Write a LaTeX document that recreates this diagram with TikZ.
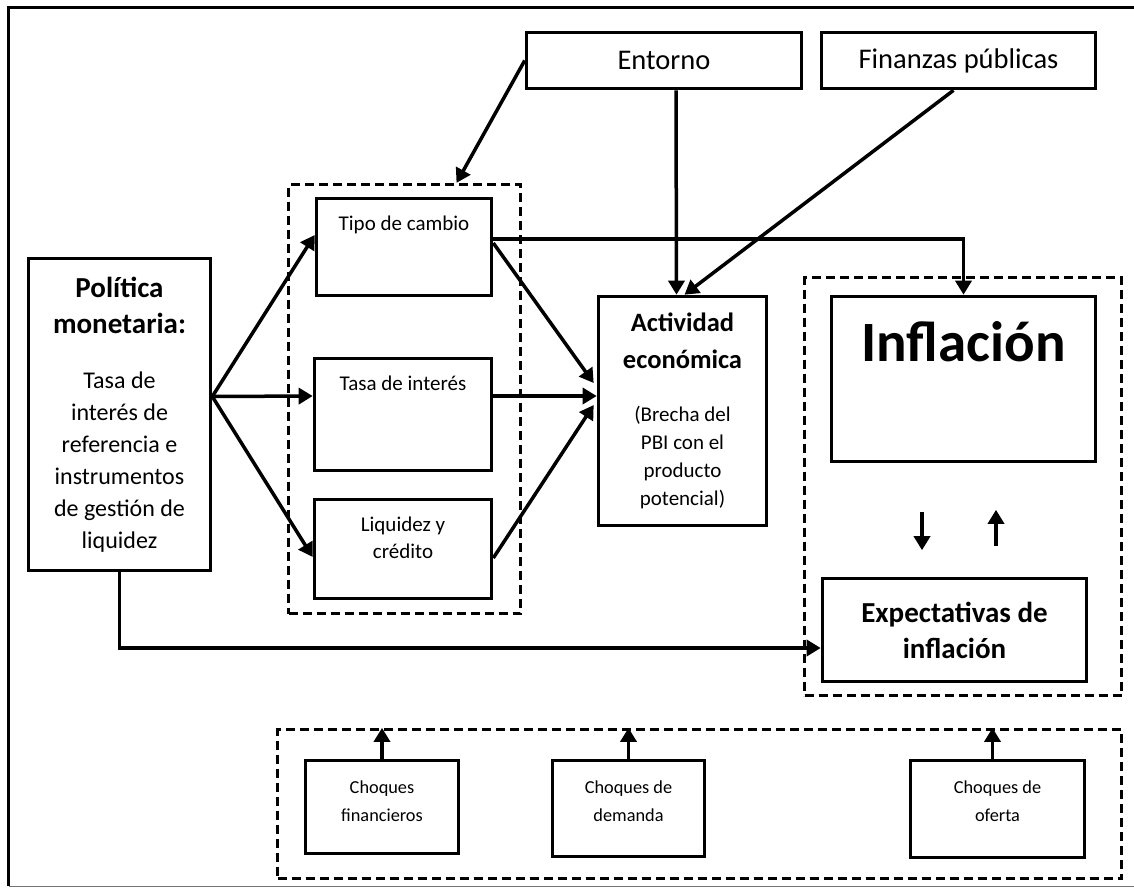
\documentclass[tikz,border=0pt]{standalone}
\usepackage{fontspec}
\setmainfont{Carlito}
\usetikzlibrary{arrows.meta}

\newcommand{\hd}{\bfseries\fontsize{29}{36}\selectfont}
\newcommand{\hda}{\bfseries\fontsize{26.5}{32}\selectfont}

\begin{document}
\begin{tikzpicture}[
  x=1pt, y=-1pt,
  box/.style={rectangle, draw, line width=3.6pt, align=center, inner sep=0pt},
  grp/.style={rectangle, draw, line width=3.3pt, dash pattern=on 9pt off 5pt},
  lbl/.style={inner sep=0pt, align=center, font=\fontsize{21}{27}\selectfont},
  slbl/.style={inner sep=0pt, align=center, font=\fontsize{18.3}{28}\selectfont},
  ar/.style={-{Triangle[length=14pt,width=16pt]}, line width=3.5pt}
]
\useasboundingbox (0,0) rectangle (1134,887);
% frame
\draw[line width=3pt] (1134,7.5) -- (8.5,7.5) -- (8.5,886);
\draw[line width=1pt, black!55] (8.5,886) -- (1134,886);

% dashed groups
\node[grp, minimum width=232pt, minimum height=429pt] (g1) at (404.5,399) {};
\node[grp, minimum width=317pt, minimum height=418pt] (g2) at (963,486.5) {};
\node[grp, minimum width=844pt, minimum height=149pt] (g3) at (699.5,804) {};

% boxes
\node[box, minimum width=275pt, minimum height=56pt, font=\fontsize{28.5}{34}\selectfont] (ent) at (664,60.5) {Entorno};
\node[box, minimum width=274pt, minimum height=56pt, font=\fontsize{28.5}{34}\selectfont] (fin) at (958.5,60.5) {Finanzas públicas};
\node[box, minimum width=182pt, minimum height=312pt, font=\fontsize{24}{32}\selectfont] (pol) at (119.5,414.5)
  {{\hd Política}\\[4pt]{\hd monetaria:}\\[23pt]Tasa de\\interés de\\referencia e\\instrumentos\\de gestión de\\liquidez};
\node[box, minimum width=175pt, minimum height=97pt, label={[lbl, anchor=base, yshift=-33.5pt]north:Tipo de cambio}] (tc) at (404,247) {};
\node[box, minimum width=177pt, minimum height=112pt, label={[lbl, anchor=base, yshift=-33.5pt]north:Tasa de interés}] (ti) at (403,414.5) {};
\node[box, minimum width=177pt, minimum height=99pt, label={[lbl, anchor=north, yshift=-19.5pt]north:{Liquidez y\\crédito}}] (liq) at (403,549) {};
\node[box, minimum width=168pt, minimum height=229pt, font=\fontsize{21}{28}\selectfont] (act) at (682.5,411)
  {{\hda Actividad}\\[9pt]{\hda económica}\\[25pt](Brecha del\\PBI con el\\producto\\potencial)};
\node[box, minimum width=264pt, minimum height=165pt, label={[inner sep=0pt, anchor=base, yshift=-66.5pt, font=\bfseries\fontsize{57}{68}\selectfont]north:Inflación}] (inf) at (963.5,379) {};
\node[box, minimum width=264pt, minimum height=103pt, font=\hd] (exp) at (954.5,630) {Expectativas de\\inflación};
\node[box, minimum width=153pt, minimum height=93pt, label={[slbl, anchor=north, yshift=-21.5pt]north:{Choques\\financieros}}] (cf) at (382,807) {};
\node[box, minimum width=152pt, minimum height=96pt, label={[slbl, anchor=north, yshift=-21.5pt]north:{Choques de\\demanda}}] (cd) at (628.5,808.5) {};
\node[box, minimum width=174pt, minimum height=97pt, label={[slbl, anchor=north, yshift=-21.5pt]north:{Choques de\\oferta}}] (co) at (997.5,809) {};

% arrows
\draw[ar] (ent.west) -- ([xshift=52pt]g1.north);
\draw[ar] ([xshift=12pt]ent.south) -- ([xshift=-6pt]act.north);
\draw[ar] ([xshift=-5pt]fin.south) -- ([xshift=2pt]act.north);
\draw[ar] ([yshift=8pt]tc.east) -| (inf.north);
\draw[ar] ([yshift=4pt]tc.east) -- ([xshift=-3pt,yshift=28pt]act.west);
\draw[ar] ([yshift=18.5pt]ti.east) -- ([yshift=15pt]act.west);
\draw[ar] ([yshift=-9pt]liq.east) -- ([xshift=-3pt,yshift=6pt]act.west);
\draw[ar] ([yshift=18pt]pol.east) -- ([yshift=12pt]tc.west);
\draw[ar] ([yshift=18pt]pol.east) -- ([yshift=18.5pt]ti.west);
\draw[ar] ([yshift=18pt]pol.east) -- ([yshift=-8pt]liq.west);
\draw[ar] (pol.south) |- ([yshift=-18pt]exp.west);
\draw[ar] ([xshift=-41.5pt,yshift=-48.5pt]inf.south) -- ([xshift=-32.5pt,yshift=26.5pt]exp.north);
\draw[ar] ([xshift=41.5pt,yshift=30.5pt]exp.north) -- ([xshift=32.5pt,yshift=-46.5pt]inf.south);
\draw[ar] (cf.north) -- (cf.north |- g3.north);
\draw[ar] (cd.north) -- (cd.north |- g3.north);
\draw[ar] ([xshift=-5pt]co.north) -- ([xshift=-5pt]co.north |- g3.north);
\end{tikzpicture}
\end{document}
